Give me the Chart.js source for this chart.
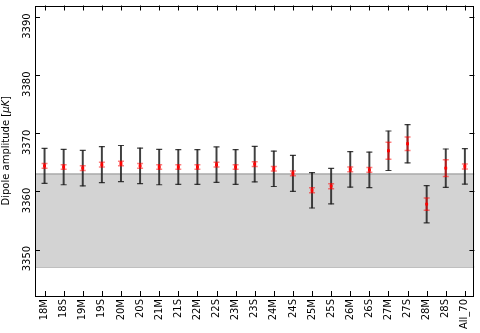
<!DOCTYPE html>
<html>
<head>
<meta charset="utf-8">
<title>Dipole amplitude per map</title>
<script src="https://cdn.jsdelivr.net/npm/chart.js@4.4.0/dist/chart.umd.min.js"></script>
<style>
    html, body { margin: 0; padding: 0; background: #fff; }
    #wrap { width: 480px; height: 333px; }
</style>
</head>
<body>
<div id="wrap"><canvas id="dipoleChart" width="480" height="333"></canvas></div>
<script>
// values
const mapLabels = ['18M', '18S', '19M', '19S', '20M', '20S', '21M', '21S', '22M', '22S', '23M', '23S',
    '24M', '24S', '25M', '25S', '26M', '26S', '27M', '27S', '28M', '28S', 'All_70'];
const amplitude = [3364.4, 3364.2, 3364.0, 3364.6, 3364.8, 3364.4, 3364.2, 3364.2, 3364.2, 3364.6, 3364.2, 3364.7,
    3363.9, 3363.1, 3360.2, 3360.9, 3363.8, 3363.7, 3367.0, 3368.2, 3357.8, 3364.0, 3364.3];
const totalError = [3.0, 3.05, 3.05, 3.1, 3.1, 3.05, 3.05, 3.0, 3.0, 3.05, 3.0, 3.05,
    3.05, 3.1, 3.05, 3.05, 3.05, 3.05, 3.4, 3.3, 3.2, 3.3, 3.05];
const statError = [0.4, 0.4, 0.4, 0.4, 0.4, 0.4, 0.4, 0.4, 0.4, 0.4, 0.4, 0.4,
    0.4, 0.4, 0.42, 0.42, 0.42, 0.42, 1.45, 1.15, 1.05, 1.45, 0.42];
const yTicks = [3350, 3360, 3370, 3380, 3390];
const yMin = 3342;
const yMax = 3392;
const bandLow = 3347;
const bandHigh = 3363;

const FONT = '"DejaVu Sans", "Liberation Sans", sans-serif';

function pointsOf(values) {
    return values.map(function (v, i) { return { x: i, y: v }; });
}
function rangesOf(values, errs) {
    return values.map(function (v, i) { return { x: i, y: [v - errs[i], v + errs[i]] }; });
}
function capsOf(values, errs) {
    const caps = [];
    values.forEach(function (v, i) {
        caps.push({ x: i, y: v - errs[i] });
        caps.push({ x: i, y: v + errs[i] });
    });
    return caps;
}

const xLow = -0.5;
const xHigh = mapLabels.length - 0.5;

// inside ticks, frame, rotated y labels and axis title (matplotlib look)
const frameTicks = {
    id: 'frameTicks',
    afterDraw(chart) {
        const ctx = chart.ctx;
        const area = chart.chartArea;
        const xs = chart.scales.x;
        const ys = chart.scales.y;
        ctx.save();
        ctx.strokeStyle = '#000';
        ctx.lineWidth = 1;
        ctx.strokeRect(Math.round(area.left) + 0.5, Math.round(area.top) + 0.5,
            Math.round(area.right - area.left) - 1, Math.round(area.bottom - area.top) - 1);

        ctx.beginPath();
        yTicks.forEach(function (v) {
            const y = Math.round(ys.getPixelForValue(v)) + 0.5;
            ctx.moveTo(area.left, y); ctx.lineTo(area.left + 5, y);
            ctx.moveTo(area.right, y); ctx.lineTo(area.right - 5, y);
        });
        mapLabels.forEach(function (l, i) {
            const x = Math.round(xs.getPixelForValue(i)) + 0.5;
            ctx.moveTo(x, area.bottom); ctx.lineTo(x, area.bottom - 5);
            ctx.moveTo(x, area.top); ctx.lineTo(x, area.top + 5);
        });
        ctx.stroke();

        ctx.fillStyle = '#000';
        ctx.font = '10px ' + FONT;
        ctx.textAlign = 'center';
        ctx.textBaseline = 'middle';
        yTicks.forEach(function (v) {
            const y = ys.getPixelForValue(v);
            ctx.save();
            ctx.translate(27, y + 9);
            ctx.rotate(-Math.PI / 2);
            ctx.fillText(String(v), 0, 0);
            ctx.restore();
        });

        // y axis title with italic unit
        const parts = [
            { t: 'Dipole amplitude [', f: '10px ' + FONT },
            { t: '\u03bcK', f: 'italic 10px ' + FONT },
            { t: ']', f: '10px ' + FONT }
        ];
        let total = 0;
        parts.forEach(function (p) { ctx.font = p.f; p.w = ctx.measureText(p.t).width; total += p.w; });
        ctx.translate(6.5, (area.top + area.bottom) / 2);
        ctx.rotate(-Math.PI / 2);
        ctx.textAlign = 'left';
        let pos = -total / 2;
        parts.forEach(function (p) { ctx.font = p.f; ctx.fillText(p.t, pos, 0); pos += p.w; });
        ctx.restore();
    }
};

new Chart(document.getElementById('dipoleChart'), {
    type: 'scatter',
    data: {
        datasets: [
            {
                type: 'scatter',
                label: 'amplitude',
                data: pointsOf(amplitude),
                pointStyle: 'rect',
                pointRadius: 2,
                backgroundColor: '#ff0000',
                borderColor: '#ff0000',
                borderWidth: 0,
                order: 0
            },
            {
                type: 'scatter',
                label: 'stat caps',
                data: capsOf(amplitude, statError),
                pointStyle: 'line',
                pointRadius: 3,
                borderColor: 'rgba(255, 0, 0, 0.5)',
                borderWidth: 1.5,
                order: 1
            },
            {
                type: 'bar',
                label: 'stat error',
                data: rangesOf(amplitude, statError),
                backgroundColor: 'rgba(255, 0, 0, 0.55)',
                barThickness: 1.5,
                grouped: false,
                order: 2
            },
            {
                type: 'scatter',
                label: 'total caps',
                data: capsOf(amplitude, totalError),
                pointStyle: 'line',
                pointRadius: 3,
                borderColor: 'rgba(30, 30, 30, 0.85)',
                borderWidth: 1.2,
                order: 3
            },
            {
                type: 'bar',
                label: 'total error',
                data: rangesOf(amplitude, totalError),
                backgroundColor: 'rgba(30, 30, 30, 0.85)',
                barThickness: 1.3,
                grouped: false,
                order: 4
            },
            {
                type: 'line',
                label: 'band top',
                data: [{ x: xLow, y: bandHigh }, { x: xHigh, y: bandHigh }],
                borderColor: '#aaaaaa',
                borderWidth: 1.5,
                backgroundColor: '#d3d3d3',
                fill: { value: bandLow },
                pointRadius: 0,
                order: 5
            },
            {
                type: 'line',
                label: 'band bottom',
                data: [{ x: xLow, y: bandLow }, { x: xHigh, y: bandLow }],
                borderColor: '#aaaaaa',
                borderWidth: 1.5,
                fill: false,
                pointRadius: 0,
                order: 6
            }
        ]
    },
    options: {
        responsive: false,
        animation: false,
        layout: { padding: { top: 2, right: 2, left: 0, bottom: 0 } },
        plugins: {
            legend: { display: false },
            tooltip: { enabled: false }
        },
        scales: {
            x: {
                type: 'linear',
                min: xLow,
                max: xHigh,
                offset: false,
                afterBuildTicks: function (scale) {
                    scale.ticks = mapLabels.map(function (l, i) { return { value: i }; });
                },
                afterFit: function (scale) { scale.height = 37; },
                ticks: {
                    autoSkip: false,
                    minRotation: 90,
                    maxRotation: 90,
                    padding: 3,
                    color: '#000',
                    font: { family: FONT, size: 10 },
                    callback: function (v) { return mapLabels[v]; }
                },
                grid: { display: false, drawTicks: false, offset: false },
                border: { display: false }
            },
            y: {
                type: 'linear',
                min: yMin,
                max: yMax,
                afterFit: function (scale) { scale.width = 35; },
                ticks: { display: false },
                grid: { display: false, drawTicks: false },
                border: { display: false }
            }
        }
    },
    plugins: [frameTicks]
});
</script>
</body>
</html>
